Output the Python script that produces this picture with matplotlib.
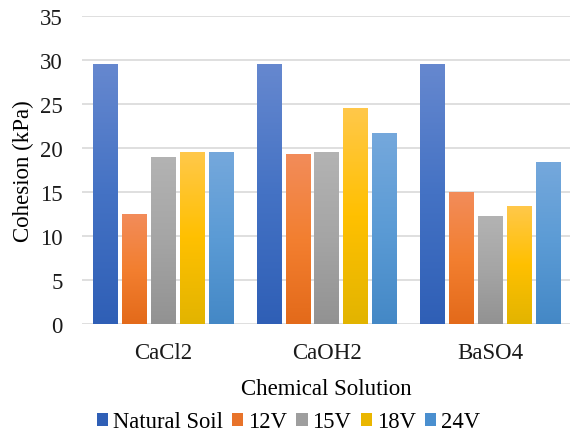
import numpy as np
import matplotlib.pyplot as plt
from matplotlib.colors import LinearSegmentedColormap
from matplotlib.patches import Patch

plt.rcParams['font.family'] = ['Liberation Serif', 'DejaVu Serif']

categories = ['CaCl2', 'CaOH2', 'BaSO4']
series_names = ['Natural Soil', '12V', '15V', '18V', '24V']
natural_soil = [29.5, 29.5, 29.5]
v12 = [12.4, 19.3, 14.9]
v15 = [18.9, 19.5, 12.2]
v18 = [19.5, 24.5, 13.3]
v24 = [19.5, 21.6, 18.3]
all_series = [natural_soil, v12, v15, v18, v24]

# gradient stops: top, middle, bottom (Office style fill)
gradients = [
    ['#6688cf', '#4472c4', '#2f5fb6'],
    ['#f28c5a', '#f37f30', '#e36a1a'],
    ['#b3b3b3', '#a5a5a5', '#929292'],
    ['#ffc84a', '#ffc000', '#e2b400'],
    ['#75a8dc', '#5b9bd5', '#4488c6'],
]
legend_colors = ['#2f5fb6', '#e8732a', '#9e9e9e', '#eab600', '#4a8fcf']

fig = plt.figure(figsize=(5.7, 4.35), dpi=100)
ax = fig.add_axes([0.1439, 0.2529, 0.8561, 0.7081])

x = np.arange(len(categories))
width = 0.153
pitch = 0.177

for i, vals in enumerate(all_series):
    cmap = LinearSegmentedColormap.from_list('g%d' % i, gradients[i][::-1])
    grad = np.linspace(0, 1, 256).reshape(-1, 1)
    for j, v in enumerate(vals):
        xc = x[j] + (i - 2) * pitch
        ax.imshow(grad, extent=[xc - width / 2, xc + width / 2, 0, v], origin='lower',
                  aspect='auto', cmap=cmap, zorder=3, interpolation='bilinear')

ax.set_xlim(-0.5, 2.488)
ax.set_ylim(0, 35)
ax.set_yticks(np.arange(0, 36, 5))
ax.set_xticks(x)
ax.set_xticklabels(categories)
ax.grid(axis='y', color='#d9d9d9', linewidth=1.2, zorder=0)
ax.set_axisbelow(True)
for s in ax.spines.values():
    s.set_visible(False)
ax.tick_params(length=0, labelsize=16.5, colors='#1a1a1a')
ax.tick_params(axis='y', pad=14)
ax.tick_params(axis='x', pad=13)
ax.set_xlabel('Chemical Solution', fontsize=16.5, labelpad=11)
ax.set_ylabel('Cohesion (kPa)', fontsize=16.5, labelpad=4)

handles = [Patch(facecolor=c, edgecolor='none') for c in legend_colors]
fig.legend(handles, series_names, loc='center', bbox_to_anchor=(0.506, 0.028), ncol=5,
           frameon=False, fontsize=16.3, handlelength=0.5, handleheight=0.5,
           handletextpad=0.2, columnspacing=0.42, borderpad=0)

fig.savefig('out.png', dpi=100)
